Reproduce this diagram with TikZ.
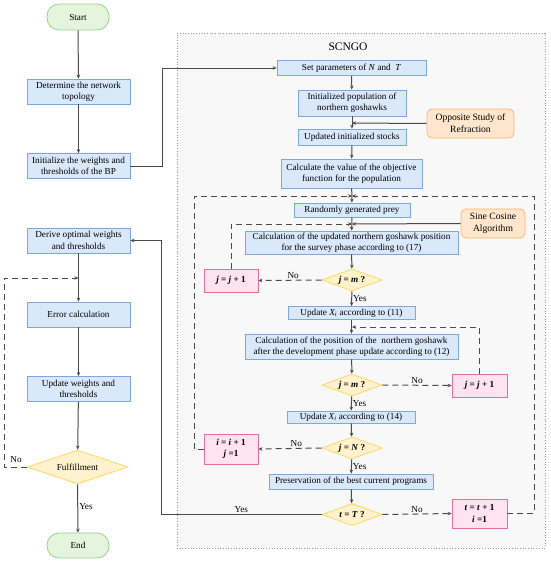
\documentclass[tikz,border=0pt]{standalone}
\usepackage{fontspec}
\setmainfont{Liberation Serif}
\usetikzlibrary{shapes.geometric,arrows.meta}
\definecolor{bfill}{HTML}{DAE8FC}
\definecolor{bdraw}{HTML}{7EA6E0}
\definecolor{gfill}{HTML}{E4F4DD}
\definecolor{gdraw}{HTML}{9AD38A}
\definecolor{yfill}{HTML}{FFF2CC}
\definecolor{ydraw}{HTML}{FFD966}
\definecolor{ofill}{HTML}{FFE6CC}
\definecolor{odraw}{HTML}{FFB570}
\definecolor{pfill}{HTML}{FFE3EE}
\definecolor{pdraw}{HTML}{EA6B9D}
\definecolor{lcol}{HTML}{4A4A4A}
\definecolor{panel}{HTML}{F8F8F8}
\newcommand{\fs}{\fontsize{9.2}{11.4}\selectfont}
\newcommand{\fo}{\fontsize{9.6}{11.8}\selectfont}
\tikzset{
  base/.style={align=center, inner sep=0pt, line width=0.8pt, font=\fs},
  bluebox/.style={base, draw=bdraw, fill=bfill},
  greenbox/.style={base, draw=gdraw, fill=gfill, rounded corners=12pt},
  orangebox/.style={base, draw=odraw, fill=ofill, rounded corners=5pt, font=\fo},
  pinkbox/.style={base, draw=pdraw, fill=pfill},
  decision/.style={base, diamond, aspect=3, draw=ydraw, fill=yfill},
  arr/.style={draw=lcol, line width=1pt, -{Stealth[length=4pt,width=3.5pt]}},
  darr/.style={arr, dash pattern=on 6pt off 4pt},
  lbl/.style={font=\fs, inner sep=1pt},
}
\begin{document}
\begin{tikzpicture}[x=1pt,y=-1pt]
\useasboundingbox (0,0) rectangle (550,562);
\fill[white] (0,0) rectangle (550,562);
% panel
\node[draw=gray!80, fill=panel, dotted, line width=0.7pt, minimum width=368pt, minimum height=515pt, inner sep=0pt] (panelbox) at (361,290.5) {};
\node[font=\fontsize{11.5}{13}\selectfont] (title) at (348,47) {SCNGO};
% left column
\node[greenbox, minimum width=62pt, minimum height=26pt] (start) at (78,17) {Start};
\node[bluebox, minimum width=103pt, minimum height=25pt] (det) at (78.5,91.5) {Determine the network\\topology};
\node[bluebox, minimum width=103pt, minimum height=25pt] (init) at (78.5,166) {Initialize the weights and\\thresholds of the BP};
\node[bluebox, minimum width=103pt, minimum height=25pt] (derive) at (78.5,240.5) {Derive optimal weights\\and thresholds};
\node[bluebox, minimum width=103pt, minimum height=25pt] (err) at (78.5,314.5) {Error calculation};
\node[bluebox, minimum width=103pt, minimum height=25pt] (updw) at (78.5,389) {Update weights and\\thresholds};
\node[decision, minimum width=101pt, minimum height=34pt] (ful) at (77.5,467) {Fulfillment};
\node[greenbox, minimum width=62pt, minimum height=25pt] (end) at (78,545.5) {End};
% SCNGO column
\node[bluebox, minimum width=149pt, minimum height=15pt] (setp) at (351.5,68) {Set parameters of \textit{N} and\ \ \textit{T}};
\node[bluebox, minimum width=108pt, minimum height=26pt] (initpop) at (352,103) {Initialized population of\\northern goshawks};
\node[bluebox, minimum width=108pt, minimum height=16pt] (updstock) at (352,137) {Updated initialized stocks};
\node[bluebox, minimum width=141pt, minimum height=29pt] (calc) at (351.5,173.5) {Calculate the value of the objective\\function for the population};
\node[orangebox, minimum width=87pt, minimum height=29pt] (opp) at (470.5,123.5) {Opposite Study of\\Refraction};
\node[bluebox, minimum width=116pt, minimum height=14pt] (rand) at (352,210) {Randomly generated prey};
\node[orangebox, minimum width=64pt, minimum height=29pt] (sine) at (493,223.5) {Sine Cosine\\Algorithm};
\node[bluebox, minimum width=213pt, minimum height=23pt] (calcA) at (351.5,242.5) {Calculation of the updated northern goshawk position\\for the survey phase according to (17)};
\node[decision, minimum width=60pt, minimum height=22pt] (jmA) at (352,280) {\textbf{\textit{j} = \textit{m} ?}};
\node[pinkbox, minimum width=54pt, minimum height=23pt] (jjA) at (231,280.5) {\textbf{\textit{j} = \textit{j} + 1}};
\node[bluebox, minimum width=127pt, minimum height=13pt] (updA) at (351.5,313) {Update \textit{X\textsubscript{i}} according to (11)};
\node[bluebox, minimum width=213pt, minimum height=25pt] (calcB) at (351.5,346.5) {Calculation of the position of the\ \ northern goshawk\\after the development phase update according to (12)};
\node[decision, minimum width=60pt, minimum height=22pt] (jmB) at (352,385) {\textbf{\textit{j} = \textit{m} ?}};
\node[pinkbox, minimum width=55pt, minimum height=23pt] (jjB) at (479.5,385.5) {\textbf{\textit{j} = \textit{j} + 1}};
\node[bluebox, minimum width=128pt, minimum height=12pt] (updB) at (351,417) {Update \textit{X\textsubscript{i}} according to (14)};
\node[decision, minimum width=60pt, minimum height=22pt] (jN) at (352,448) {\textbf{\textit{j} = \textit{N} ?}};
\node[pinkbox, minimum width=54pt, minimum height=30pt] (ii) at (231,449) {\textbf{\textit{i} = \textit{i} + 1}\\\textbf{\textit{j} =1}};
\node[bluebox, minimum width=164pt, minimum height=15pt] (pres) at (351,481.5) {Preservation of the best current programs};
\node[decision, minimum width=60pt, minimum height=22pt] (tT) at (352,514.5) {\textbf{\textit{t} = \textit{T} ?}};
\node[pinkbox, minimum width=55pt, minimum height=29pt] (tt) at (479.5,513.5) {\textbf{\textit{t} = \textit{t} + 1}\\\textbf{\textit{i} =1}};
% merge coordinates
\coordinate (m1) at (78.5,278);
\coordinate (m2) at (352,123);
\coordinate (m3) at (352,196);
\coordinate (m4) at (352,224);
\coordinate (m5) at (352,327);
\coordinate (la) at (4,467);
\coordinate (lb) at (161,514.5);
\coordinate (lc) at (194,449);
\coordinate (ld) at (534,513.5);
% left connectors
\draw[arr] (start) -- (det);
\draw[arr] (det) -- (init);
\draw[arr] (init.east) -- ++(32,0) |- (setp.west);
\draw[arr] (derive) -- (err);
\draw[arr] (err) -- (updw);
\draw[arr] (updw) -- (ful);
\draw[arr] (ful) -- node[lbl, right, pos=0.45] {Yes} (end);
\draw[darr] (ful.west) -- (la) |- (m1);
\node[lbl] (noL) at (16,460) {No};
% SCNGO connectors
\draw[arr] (setp) -- (initpop);
\draw[arr] (initpop) -- (updstock);
\draw[arr] (opp.west) -- (m2);
\draw[arr] (updstock) -- (calc);
\draw[arr] (calc) -- (rand);
\draw[arr] (rand) -- (calcA);
\draw[arr] (sine.west) -- (m4);
\draw[arr] (calcA) -- (jmA);
\draw[arr] (jmA) -- node[lbl, right, pos=0.5] {Yes} (updA);
\draw[arr] (updA) -- (calcB);
\draw[arr] (calcB) -- (jmB);
\draw[arr] (jmB) -- node[lbl, right, pos=0.5] {Yes} (updB);
\draw[arr] (updB) -- (jN);
\draw[arr] (jN) -- node[lbl, right, pos=0.5] {Yes} (pres);
\draw[arr] (pres) -- (tT);
\draw[arr] (tT.west) -- node[lbl, above, pos=0.5] {Yes} (lb) |- (derive.east);
% dashed loops
\draw[darr] (jmA.west) -- node[lbl, above, pos=0.45] {No} (jjA.east);
\draw[darr] (jjA.north) |- (m4);
\draw[darr] (jmB.east) -- node[lbl, above, pos=0.5] {No} (jjB.west);
\draw[darr] (jjB.north) |- (m5);
\draw[darr] (jN.west) -- node[lbl, above, pos=0.4] {No} (ii.east);
\draw[darr] (ii.west) -- (lc) |- (m3);
\draw[darr] (tT.east) -- node[lbl, above, pos=0.5] {No} (tt.west);
\draw[darr] (tt.east) -- (ld) |- (m3);
\end{tikzpicture}
\end{document}
